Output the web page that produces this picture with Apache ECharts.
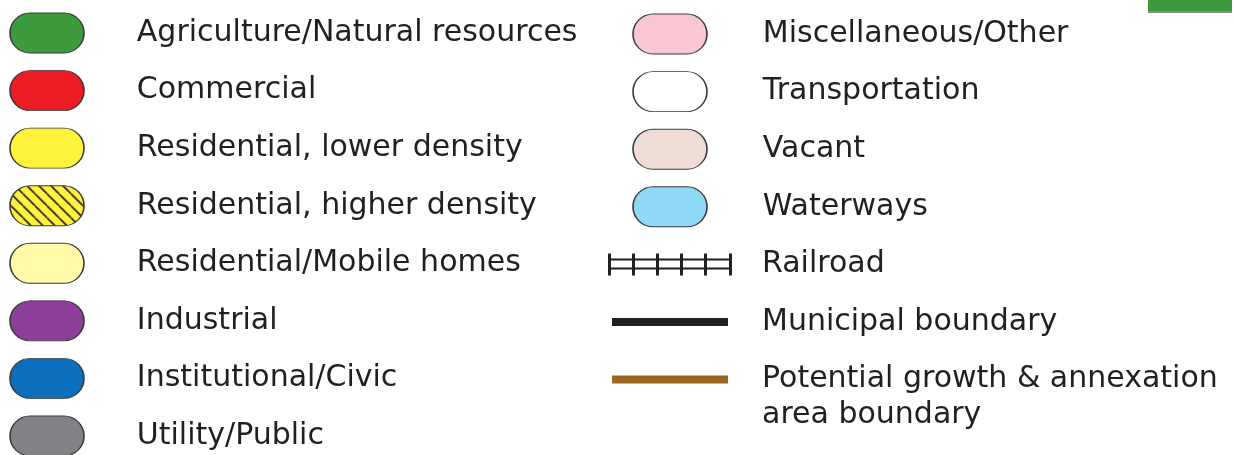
<!DOCTYPE html>
<html>
<head>
<meta charset="utf-8">
<style>
  html, body { margin: 0; padding: 0; background: #fff; }
  #main { width: 1234px; height: 455px; }
</style>
<script src="https://cdn.jsdelivr.net/npm/echarts@6/dist/echarts.min.js"></script>
</head>
<body>
<div id="main"></div>
<script>
// legend entries, left column
const leftNames = [
  'Agriculture/Natural resources',
  'Commercial',
  'Residential, lower density',
  'Residential, higher density',
  'Residential/Mobile homes',
  'Industrial',
  'Institutional/Civic',
  'Utility/Public'
]
const leftColors = ['#3d9a3d', '#ed1c24', '#fff23a', '#fff23a', '#fff9a8', '#8b3f98', '#0b6fbd', '#808285']
const leftHatched = [false, false, false, true, false, false, false, false]

// legend entries, right column
const rightNames = [
  'Miscellaneous/Other',
  'Transportation',
  'Vacant',
  'Waterways',
  'Railroad',
  'Municipal boundary',
  'Potential growth & annexation\narea boundary'
]
const rightColors = ['#f9c6d3', '#ffffff', '#f0ddd6', '#8fd8f6', '#231f20', '#231f20', '#9a661f']
const rightKinds = ['pill', 'pill', 'pill', 'pill', 'rail', 'line', 'line']

const PILL = 'path://M20,0 H54 A20,20 0 0 1 54,40 H20 A20,20 0 0 1 20,0 Z'
const PILL_SIZE = [74, 40]
const RAIL = 'path://M0,0 h3 v22 h-3 Z M24,0 h3 v22 h-3 Z M48,0 h3 v22 h-3 Z M72,0 h3 v22 h-3 Z M96,0 h3 v22 h-3 Z M121,0 h3 v22 h-3 Z M0,5 h124 v2 h-124 Z M0,14 h124 v2 h-124 Z'

// yellow with diagonal hatch; symbol paths are scaled by size/2, so undo that on the pattern
function hatchPattern() {
  const c = document.createElement('canvas')
  c.width = 12
  c.height = 12
  const ctx = c.getContext('2d')
  ctx.fillStyle = '#fff23a'
  ctx.fillRect(0, 0, 12, 12)
  ctx.strokeStyle = '#231f20'
  ctx.lineWidth = 1.6
  for (const o of [-12, 0, 12]) {
    ctx.beginPath()
    ctx.moveTo(o, 0)
    ctx.lineTo(o + 12, 12)
    ctx.stroke()
  }
  return { image: c, repeat: 'repeat', scaleX: 2 / PILL_SIZE[0], scaleY: 2 / PILL_SIZE[1] }
}

const textStyle = {
  fontFamily: 'DejaVu Sans',
  fontSize: 30,
  color: '#231f20',
  lineHeight: 36
}

const leftData = leftNames.map((name, i) => ({
  value: [0, i],
  name: name,
  symbol: PILL,
  symbolSize: PILL_SIZE,
  itemStyle: {
    color: leftHatched[i] ? hatchPattern() : leftColors[i],
    borderColor: '#3b3b3b',
    borderWidth: 1.2,
    opacity: 1
  },
  label: { distance: 52 }
}))

const rightData = rightNames.map((name, i) => {
  const kind = rightKinds[i]
  const item = { value: [0, i], name: name, label: {} }
  if (kind === 'pill') {
    item.symbol = PILL
    item.symbolSize = PILL_SIZE
    item.itemStyle = { color: rightColors[i], borderColor: '#3b3b3b', borderWidth: 1.2, opacity: 1 }
    item.label.distance = 55
  } else if (kind === 'rail') {
    item.symbol = RAIL
    item.symbolSize = [124, 22]
    item.itemStyle = { color: rightColors[i], borderWidth: 0, opacity: 1 }
    item.label.distance = 30
  } else {
    item.symbol = 'rect'
    item.symbolSize = [116, 8]
    item.itemStyle = { color: rightColors[i], borderWidth: 0, opacity: 1 }
    item.label.distance = 34
  }
  if (name.indexOf('\n') >= 0) item.label.offset = [0, 18]
  return item
})

const hiddenAxis = { show: false }

const chart = echarts.init(document.getElementById('main'))
chart.setOption({
  animation: false,
  backgroundColor: '#ffffff',
  grid: [
    { left: 10, width: 74, top: 33, bottom: 19 },
    { left: 633, width: 74, top: 34, bottom: 75.4 }
  ],
  xAxis: [
    { type: 'category', gridIndex: 0, data: ['key'], ...hiddenAxis },
    { type: 'category', gridIndex: 1, data: ['key'], ...hiddenAxis }
  ],
  yAxis: [
    { type: 'category', gridIndex: 0, inverse: true, boundaryGap: false, data: leftNames, ...hiddenAxis },
    { type: 'category', gridIndex: 1, inverse: true, boundaryGap: false, data: rightNames, ...hiddenAxis }
  ],
  graphic: [
    { type: 'rect', shape: { x: 1148, y: 11, width: 84, height: 2 }, style: { fill: '#8a8a8a' } },
    { type: 'rect', shape: { x: 1148, y: -2, width: 84, height: 13 }, style: { fill: '#3d9a3d' } }
  ],
  series: [
    {
      type: 'scatter',
      xAxisIndex: 0,
      yAxisIndex: 0,
      data: leftData,
      label: { show: true, position: 'right', formatter: '{b}', ...textStyle },
      emphasis: { disabled: true }
    },
    {
      type: 'scatter',
      xAxisIndex: 1,
      yAxisIndex: 1,
      data: rightData,
      label: { show: true, position: 'right', formatter: '{b}', ...textStyle },
      emphasis: { disabled: true }
    }
  ]
})
</script>
</body>
</html>
